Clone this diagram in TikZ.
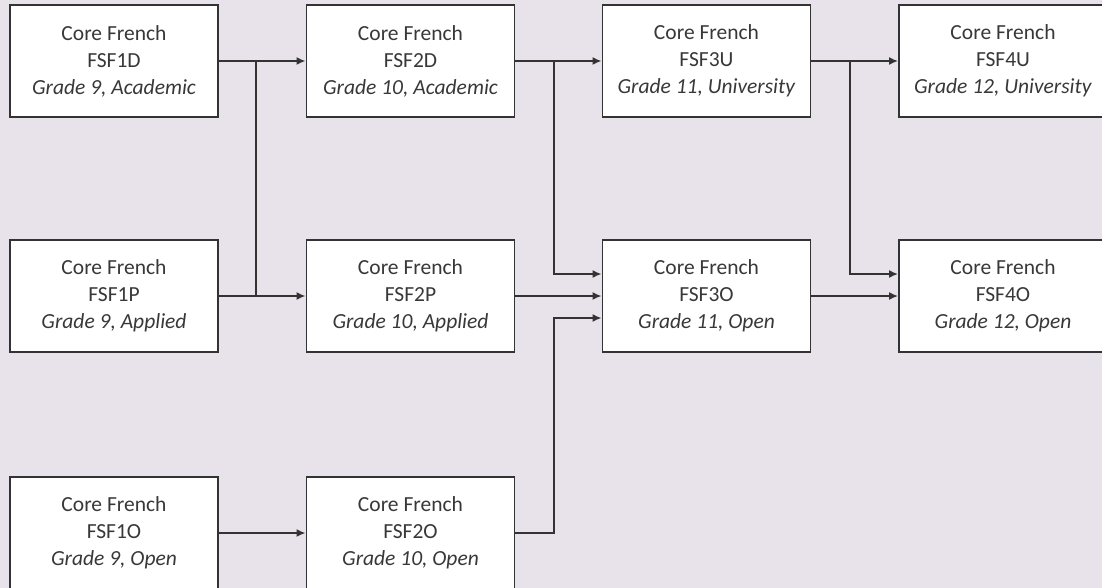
\documentclass[tikz,border=0pt]{standalone}
\usepackage{fontspec}
\setmainfont{Carlito}
\usetikzlibrary{arrows.meta}
\definecolor{bg}{HTML}{E8E3EB}
\definecolor{ln}{HTML}{333333}
\definecolor{tx}{HTML}{383838}
\begin{document}
\begin{tikzpicture}[x=1pt,y=-1pt,
  course/.style={draw=ln, line width=1.8pt, fill=white, minimum width=208pt, minimum height=112pt, inner sep=0pt, align=center, text=tx, font=\fontsize{21.5}{27}\selectfont},
  conn/.style={draw=ln, line width=1.8pt},
  arr/.style={conn, -{Latex[length=9pt,width=8pt]}}]
\useasboundingbox (0,0) rectangle (1102,588);
\clip (0,0) rectangle (1102,588);
\fill[bg] (0,0) rectangle (1102,588);
% column 1
\node[course] (d1) at (114,61) {Core French\\FSF1D\\\textit{Grade 9, Academic}};
\node[course] (p1) at (114,296) {Core French\\FSF1P\\\textit{Grade 9, Applied}};
\node[course] (o1) at (114,533) {Core French\\FSF1O\\\textit{Grade 9, Open}};
% column 2
\node[course] (d2) at (410.5,61) {Core French\\FSF2D\\\textit{Grade 10, Academic}};
\node[course] (p2) at (410.5,296) {Core French\\FSF2P\\\textit{Grade 10, Applied}};
\node[course] (o2) at (410.5,533) {Core French\\FSF2O\\\textit{Grade 10, Open}};
% column 3
\node[course] (u3) at (706.5,61) {Core French\\FSF3U\\\textit{Grade 11, University}};
\node[course] (o3) at (706.5,296) {Core French\\FSF3O\\\textit{Grade 11, Open}};
% column 4
\node[course] (u4) at (1003,61) {Core French\\FSF4U\\\textit{Grade 12, University}};
\node[course] (o4) at (1003,296) {Core French\\FSF4O\\\textit{Grade 12, Open}};
% junction columns
\coordinate (x1) at (256,0);
\coordinate (x2) at (554,0);
\coordinate (x3) at (850,0);
% grade 9 -> grade 10
\draw[arr] (d1.east) -- (d2.west);
\draw[arr] (p1.east) -- (p2.west);
\draw[conn] (d1.east -| x1) -- (p1.east -| x1);
\draw[arr] (o1.east) -- (o2.west);
% grade 10 -> grade 11
\draw[arr] (d2.east) -- (u3.west);
\draw[arr] (d2.east -| x2) -- ([yshift=22pt]o3.west -| x2) -- ([yshift=22pt]o3.west);
\draw[arr] (p2.east) -- (o3.west);
\draw[arr] (o2.east) -- (o2.east -| x2) -- ([yshift=-22pt]o3.west -| x2) -- ([yshift=-22pt]o3.west);
% grade 11 -> grade 12
\draw[arr] (u3.east) -- (u4.west);
\draw[arr] (u3.east -| x3) -- ([yshift=22pt]o4.west -| x3) -- ([yshift=22pt]o4.west);
\draw[arr] (o3.east) -- (o4.west);
\end{tikzpicture}
\end{document}
